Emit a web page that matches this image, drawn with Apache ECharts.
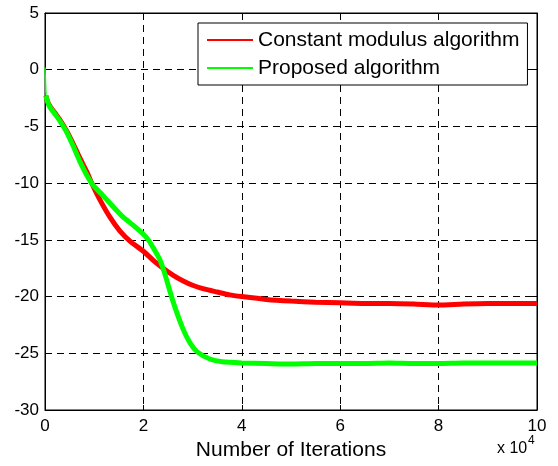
<!DOCTYPE html>
<html>
<head>
<meta charset="utf-8">
<script src="https://cdn.jsdelivr.net/npm/echarts@6/dist/echarts.min.js"></script>
<style>html,body{margin:0;padding:0;background:#fff}#c{width:558px;height:466px}</style>
</head>
<body>
<div id="c"></div>
<script>
// Data (x in units of 10^4 iterations, y in dB)
const seriesNames = ['Constant modulus algorithm', 'Proposed algorithm'];
const xTicks = [0, 2, 4, 6, 8, 10];
const yTicks = [-30, -25, -20, -15, -10, -5, 0, 5];
const cmaData = [
  [0.02,-2.3],[0.05,-2.8],[0.1,-3.2],[0.2,-3.8],[0.3,-4.4],[0.44,-5.4],[0.58,-6.6],[0.71,-7.8],
  [0.85,-9.0],[0.95,-10.0],[1.12,-11.5],[1.32,-13.0],[1.52,-14.2],[1.75,-15.2],[2.0,-16.0],
  [2.2,-16.8],[2.4,-17.5],[2.6,-18.1],[2.8,-18.6],[3.0,-19.0],[3.25,-19.35],[3.5,-19.6],
  [3.75,-19.85],[4.0,-20.0],[4.5,-20.25],[5.0,-20.4],[5.5,-20.5],[6.0,-20.55],[6.5,-20.6],
  [7.0,-20.6],[7.5,-20.65],[8.0,-20.75],[8.5,-20.65],[9.0,-20.6],[9.5,-20.6],[10.0,-20.6]
];
const proposedData = [
  [0.02,-2.3],[0.05,-2.8],[0.1,-3.3],[0.2,-3.9],[0.3,-4.5],[0.44,-5.5],[0.58,-6.8],[0.71,-8.1],
  [0.85,-9.3],[0.98,-10.2],[1.18,-11.1],[1.39,-12.1],[1.59,-13.0],[1.79,-13.7],[2.0,-14.5],
  [2.1,-15.0],[2.2,-15.7],[2.34,-16.8],[2.45,-18.2],[2.6,-20.4],[2.8,-22.8],[2.95,-24.1],
  [3.1,-24.9],[3.35,-25.5],[3.6,-25.75],[4.0,-25.85],[4.5,-25.9],[5.0,-25.95],[5.5,-25.9],
  [6.0,-25.9],[6.5,-25.9],[7.0,-25.85],[7.5,-25.9],[8.0,-25.9],[8.5,-25.85],[9.0,-25.85],
  [9.5,-25.85],[10.0,-25.85]
];
const proposedStart = [[0,0.2],[0.01,-1.2],[0.02,-2.3]];

const chart = echarts.init(document.getElementById('c'), null, {renderer: 'canvas'});
const FONT = '"Liberation Sans", Arial, Helvetica, sans-serif';
const gridDash = {color: '#000', width: 1, type: [7, 5]};
const tickStyle = {show: true, inside: true, length: 5, lineStyle: {color: '#000', width: 1}};

chart.setOption({
  animation: false,
  backgroundColor: '#fff',
  grid: {left: 45, right: 21, top: 13, bottom: 56, show: true, borderColor: '#000', borderWidth: 1, backgroundColor: 'transparent'},
  legend: {
    data: seriesNames,
    orient: 'vertical',
    left: 198, top: 23,
    padding: [3, 8, 3, 9],
    itemGap: 0,
    itemWidth: 46, itemHeight: 2,
    icon: 'rect',
    backgroundColor: '#fff',
    borderColor: '#000', borderWidth: 1,
    textStyle: {fontFamily: FONT, fontSize: 21, color: '#000', lineHeight: 28},
    itemStyle: {borderWidth: 0}
  },
  xAxis: [{
    type: 'value', min: xTicks[0], max: xTicks[xTicks.length - 1], interval: 2,
    position: 'bottom',
    name: 'Number of Iterations', nameLocation: 'middle', nameGap: 28,
    nameTextStyle: {fontFamily: FONT, fontSize: 21, color: '#000'},
    axisLine: {show: true, onZero: false, lineStyle: {color: '#000', width: 1}},
    axisTick: tickStyle,
    axisLabel: {fontFamily: FONT, fontSize: 17, color: '#000', margin: 8,
      formatter: v => xTicks.includes(v) ? String(v) : ''},
    splitLine: {show: true, lineStyle: gridDash}
  }, {
    type: 'value', min: xTicks[0], max: xTicks[xTicks.length - 1], interval: 2,
    position: 'top',
    axisLine: {show: true, onZero: false, lineStyle: {color: '#000', width: 1}},
    axisTick: tickStyle, axisLabel: {show: false}, splitLine: {show: false}
  }],
  yAxis: [{
    type: 'value', min: yTicks[0], max: yTicks[yTicks.length - 1], interval: 5,
    position: 'left',
    axisLine: {show: true, onZero: false, lineStyle: {color: '#000', width: 1}},
    axisTick: tickStyle,
    axisLabel: {fontFamily: FONT, fontSize: 17, color: '#000', margin: 6,
      formatter: v => yTicks.includes(v) ? String(v) : ''},
    splitLine: {show: true, lineStyle: gridDash}
  }, {
    type: 'value', min: yTicks[0], max: yTicks[yTicks.length - 1], interval: 5,
    position: 'right',
    axisLine: {show: true, onZero: false, lineStyle: {color: '#000', width: 1}},
    axisTick: tickStyle, axisLabel: {show: false}, splitLine: {show: false}
  }],
  series: [
    {name: seriesNames[0], type: 'line', data: cmaData, showSymbol: false, symbol: 'none',
     smooth: 0.2,
     color: '#ff0000', lineStyle: {color: '#ff0000', width: 5}, z: 2},
    {name: seriesNames[1], type: 'line', data: proposedData, showSymbol: false, symbol: 'none',
     smooth: 0.2,
     color: '#00ff00', lineStyle: {color: '#00ff00', width: 5}, z: 3},
    {name: 'start', type: 'line', data: proposedStart, showSymbol: false, symbol: 'none',
     color: '#00ff00', lineStyle: {color: '#00ff00', width: 1.5}, z: 3}
  ],
  graphic: [
    {type: 'text', left: 497, top: 441, style: {text: 'x 10', font: '16px ' + FONT, fill: '#000'}},
    {type: 'text', left: 528, top: 435, style: {text: '4', font: '12px ' + FONT, fill: '#000'}}
  ]
});
</script>
</body>
</html>
